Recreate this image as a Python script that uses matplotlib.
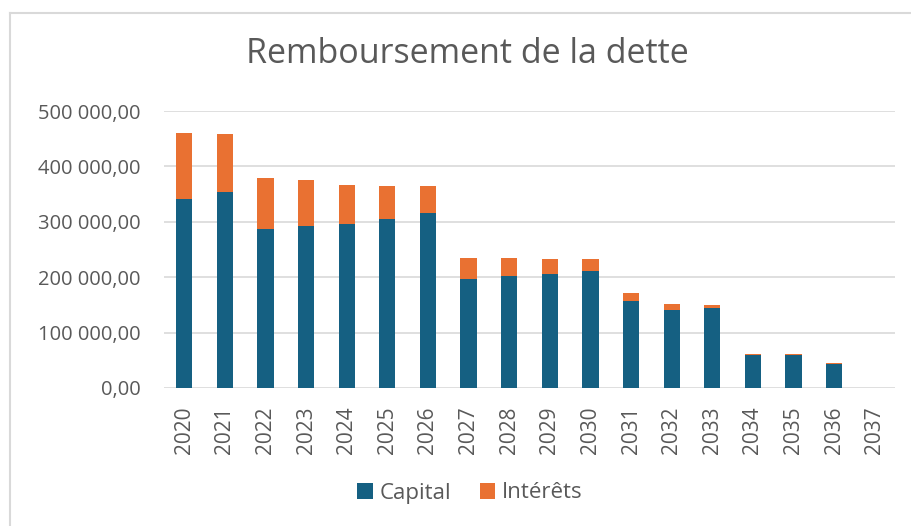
import matplotlib.pyplot as plt
import numpy as np
from matplotlib.ticker import FuncFormatter, MultipleLocator
from matplotlib.lines import Line2D

# valeurs
annees = [str(a) for a in range(2020, 2038)]
capital = [340600, 353200, 287500, 293000, 295400, 305600, 315300, 196700, 201400,
           205700, 211200, 156400, 140200, 143800, 59100, 59100, 44000, 0]
totaux = [459700, 458500, 379600, 375400, 365900, 365200, 364600, 235100, 235000,
          233300, 232800, 172100, 151700, 150500, 60900, 60900, 44700, 0]
interets = [t - c for t, c in zip(totaux, capital)]

bleu = '#156082'
orange = '#e97132'
gris = '#595959'

plt.rcParams['font.family'] = ['Open Sans', 'DejaVu Sans']

fig = plt.figure(figsize=(9.11, 5.26), dpi=100)
ax = fig.add_axes([164 / 911, 1 - 388 / 526, (895 - 164) / 911, (388 - 111) / 526])

x = np.arange(len(annees))
ax.bar(x, capital, width=0.4, color=bleu, label='Capital', zorder=3)
ax.bar(x, interets, width=0.4, bottom=capital, color=orange, label='Intérêts', zorder=3)

ax.set_xlim(-0.5, len(annees) - 0.5)
ax.set_ylim(0, 500000)
ax.yaxis.set_major_locator(MultipleLocator(100000))


def fmt(v, pos):
    s = f'{v:,.2f}'.replace(',', ' ').replace('.', ',')
    return s


ax.yaxis.set_major_formatter(FuncFormatter(fmt))
ax.grid(axis='y', color='#d9d9d9', linewidth=1.2, zorder=0)
for s in ax.spines.values():
    s.set_visible(False)
ax.set_xticks(x)
ax.set_xticklabels(annees, rotation=90)
ax.tick_params(axis='y', length=0, pad=17, labelsize=14.5, labelcolor=gris)
ax.tick_params(axis='x', length=0, pad=13, labelsize=15, labelcolor=gris)

fig.text(467 / 911, 1 - 54 / 526, 'Remboursement de la dette', ha='center', va='center',
         fontsize=24.5, color=gris)

leg = fig.legend(loc='center', bbox_to_anchor=(470 / 911, 1 - 493 / 526), ncol=2,
                 frameon=False, fontsize=16, handlelength=0.7, handleheight=0.7,
                 handletextpad=0.3, columnspacing=1.3)
for t in leg.get_texts():
    t.set_color(gris)

# cadre du graphique
fig.add_artist(Line2D([9.5 / 911, 9.5 / 911], [0, 1 - 12.5 / 526], color='#d9d9d9', linewidth=1.5))
fig.add_artist(Line2D([9.5 / 911, 1], [1 - 12.5 / 526, 1 - 12.5 / 526], color='#d9d9d9', linewidth=1.5))

fig.savefig('out.png', dpi=100, facecolor='white')
